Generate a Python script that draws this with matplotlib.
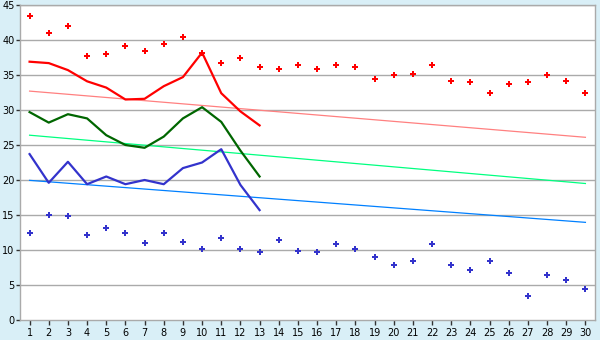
import matplotlib
matplotlib.use("Agg")
import matplotlib.pyplot as plt

days = list(range(1, 31))
line_days = list(range(1, 14))

max_points = [43.5, 40.95, 42.0, 37.7, 38.0, 39.2, 38.4, 39.4, 40.4, 38.2,
              36.7, 37.4, 36.1, 35.8, 36.4, 35.8, 36.4, 36.1, 34.5, 34.95,
              35.1, 36.4, 34.2, 33.95, 32.4, 33.7, 33.95, 34.95, 34.2, 32.5]
min_points = [12.5, 14.95, 14.8, 12.1, 13.1, 12.4, 10.95, 12.4, 11.1, 10.1,
              11.7, 10.2, 9.7, 11.4, 9.8, 9.7, 10.8, 10.2, 8.95, 7.8,
              8.4, 10.8, 7.8, 7.1, 8.5, 6.7, 3.4, 6.4, 5.7, 4.4]

red_line = [36.9, 36.7, 35.7, 34.1, 33.2, 31.5, 31.6, 33.4, 34.7, 38.2, 32.4, 29.8, 27.8]
green_line = [29.7, 28.2, 29.4, 28.8, 26.4, 25.0, 24.6, 26.2, 28.8, 30.4, 28.3, 24.2, 20.5]
blue_line = [23.7, 19.6, 22.6, 19.4, 20.5, 19.4, 20.0, 19.4, 21.7, 22.5, 24.4, 19.3, 15.7]

trend_days = [1, 30]
red_trend = [32.7, 26.1]
green_trend = [26.4, 19.5]
blue_trend = [19.95, 13.95]

y_ticks = list(range(0, 50, 5))

bg = "#D9EFF7"
fig = plt.figure(figsize=(6, 3.4), dpi=100, facecolor=bg)
ax = fig.add_axes([20/600, 20/340, 575/600, 315/340])
ax.set_facecolor("white")

for t in y_ticks[1:]:
    ax.axhline(t, color="#AAAAAA", lw=1.0, zorder=1)

ax.plot(trend_days, red_trend, color="#FF8080", lw=0.9, zorder=2)
ax.plot(trend_days, green_trend, color="#00FF80", lw=0.9, zorder=2)
ax.plot(trend_days, blue_trend, color="#0080FF", lw=0.9, zorder=2)

ax.plot(line_days, red_line, color="#FF0000", lw=1.6, zorder=3)
ax.plot(line_days, green_line, color="#006600", lw=1.6, zorder=3)
ax.plot(line_days, blue_line, color="#3333CC", lw=1.6, zorder=3)

ax.plot(days, max_points, ls="none", marker="P", ms=4.8, color="#FF0000", mec="#FF0000", mew=0, zorder=4)
ax.plot(days, min_points, ls="none", marker="P", ms=4.8, color="#3333CC", mec="#3333CC", mew=0, zorder=4)

ax.set_xlim(0.5, 30.5)
ax.set_ylim(0, 45)
ax.set_xticks(days)
ax.set_xticklabels([str(d) for d in days])
ax.set_yticks(y_ticks)
ax.set_yticklabels([str(t) for t in y_ticks])

for s in ax.spines.values():
    s.set_color("#AAAAAA")
    s.set_linewidth(1.0)
ax.tick_params(axis="both", labelcolor="#000000", labelsize=7, length=3.5, width=1, color="#333333")
ax.tick_params(axis="y", pad=1, length=3)
ax.tick_params(axis="x", pad=2)

fig.savefig("out.png", dpi=100, facecolor=bg)
